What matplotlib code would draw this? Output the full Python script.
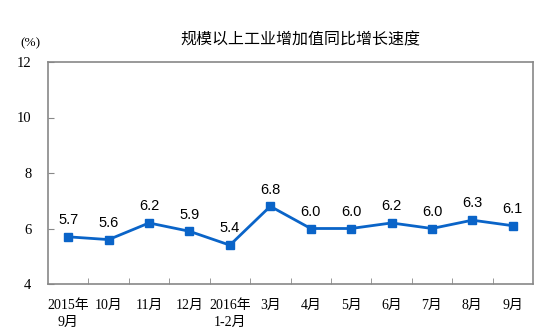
import numpy as np
import matplotlib.pyplot as plt

categories = ['2015年\n9月', '10月', '11月', '12月', '2016年\n1-2月', '3月',
              '4月', '5月', '6月', '7月', '8月', '9月']
growth = [5.7, 5.6, 6.2, 5.9, 5.4, 6.8, 6.0, 6.0, 6.2, 6.0, 6.3, 6.1]
yticks = [4, 6, 8, 10, 12]

cjk = ['Liberation Serif', 'Noto Sans CJK SC', 'DejaVu Sans']

fig = plt.figure(figsize=(5.4, 3.34), dpi=100)
ax = fig.add_axes([48 / 540, 1 - 284 / 334, 485 / 540, 222 / 334])

x = np.arange(len(growth))
ax.plot(x, growth, color='#0a64c8', lw=2, marker='s', ms=6, zorder=3)
for xi, v in zip(x, growth):
    ax.annotate(f'{v:.1f}', (xi, v), xytext=(0, 7), textcoords='offset points',
                ha='center', va='bottom', fontsize=10.5, family='Liberation Sans')

ax.set_xlim(-0.5, len(growth) - 0.5)
ax.set_ylim(4, 12)
ax.set_yticks(yticks)
ax.set_yticklabels([str(t) for t in yticks], family='Liberation Serif', fontsize=10.5)
ax.set_xticks(x)
ax.set_xticklabels(categories, family=cjk, fontsize=10, linespacing=1.35)
ax.tick_params(axis='x', length=0, pad=11)
ax.set_xticks(np.arange(0.5, len(growth) - 0.5), minor=True)
ax.tick_params(axis='x', which='minor', direction='in', length=4, color='#888888')
ax.tick_params(axis='y', direction='in', length=4, color='#888888', pad=12)
for s in ax.spines.values():
    s.set_color('#888888')
    s.set_linewidth(1.2)

fig.text(300 / 540, 1 - 40 / 334, '规模以上工业增加值同比增长速度', ha='center', va='center',
         fontsize=11.5, family=['Noto Sans CJK SC'])
fig.text(30 / 540, 1 - 43 / 334, '(%)', ha='center', va='center',
         fontsize=9.5, family='Liberation Serif')

fig.savefig('out.png', dpi=100)
